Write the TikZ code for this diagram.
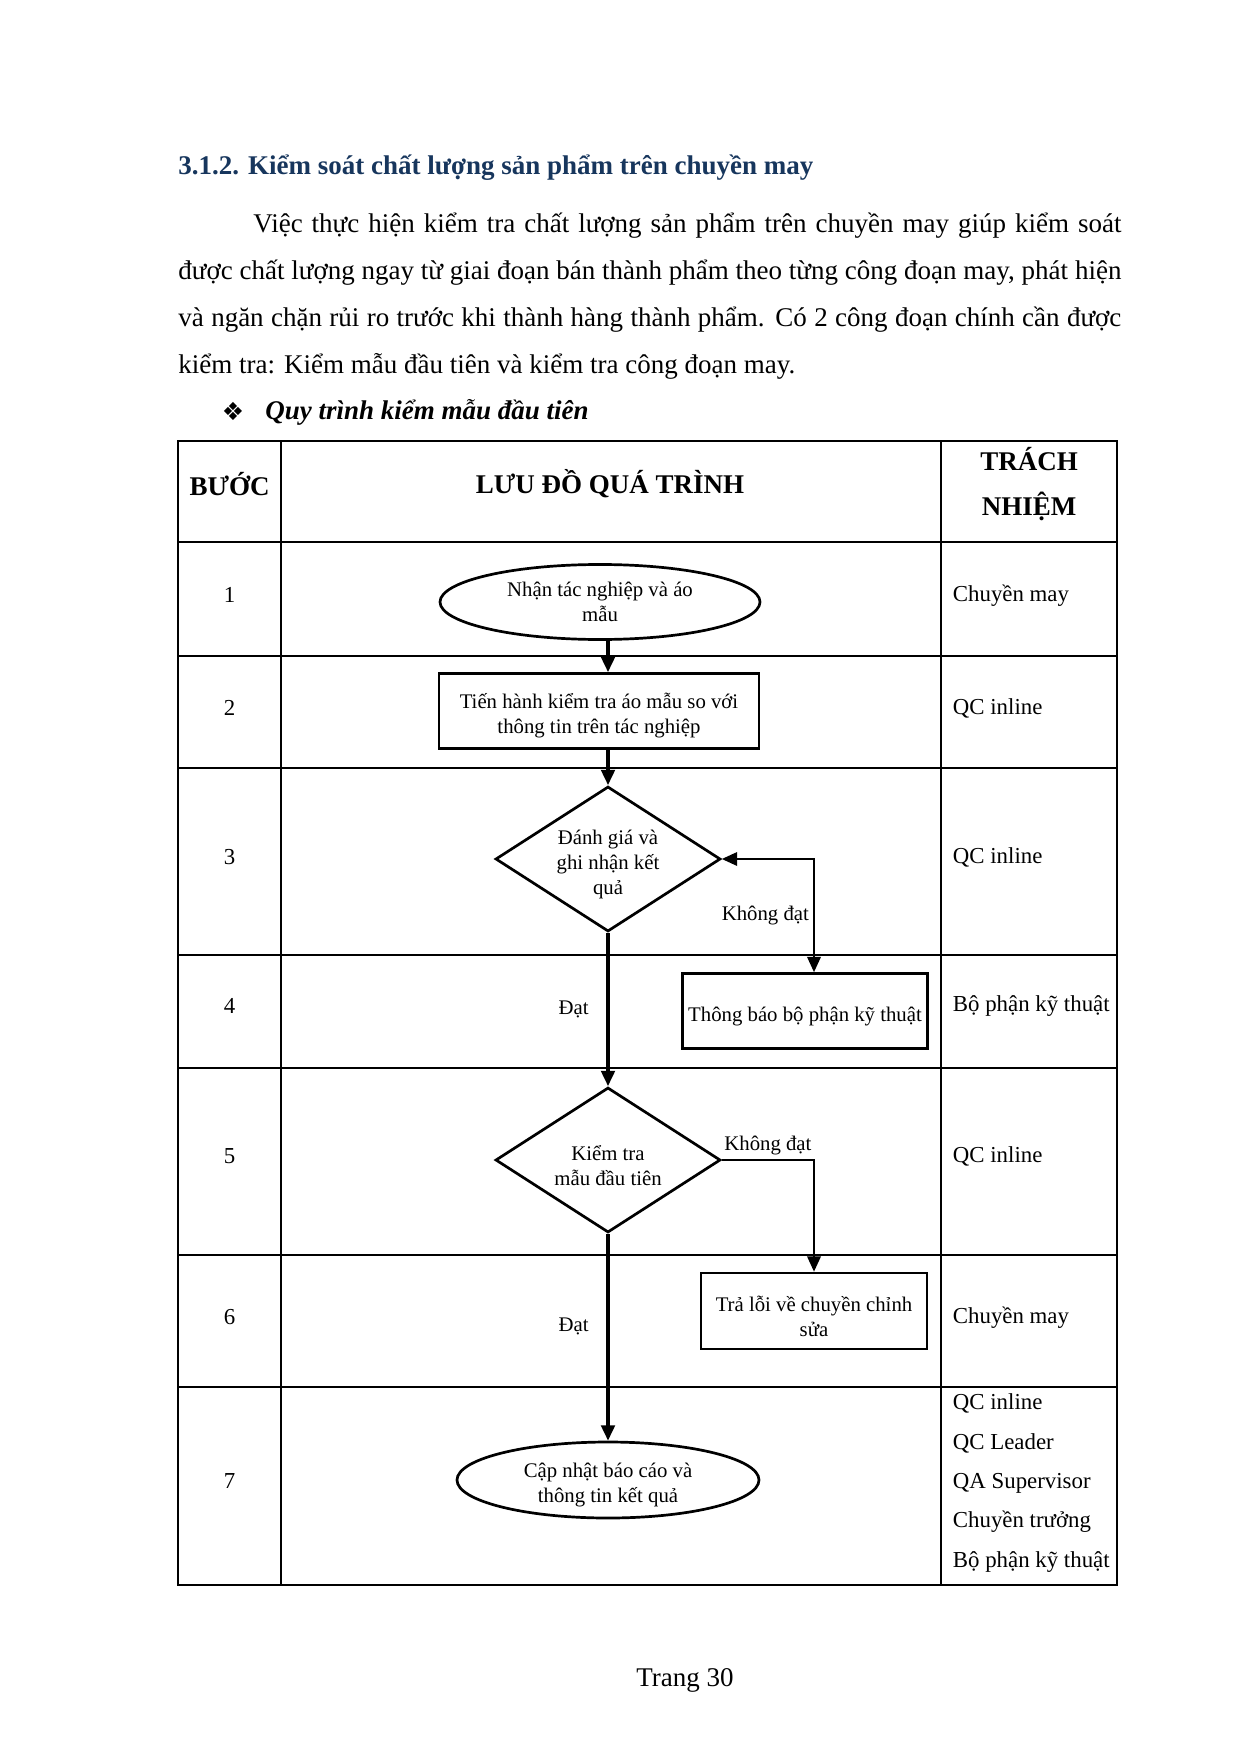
\documentclass[tikz,border=0pt]{standalone}
\usepackage{fontspec}
\setmainfont{Liberation Serif}
\newfontfamily\symfont{DejaVu Sans}
\usepackage{tikz}
\usetikzlibrary{shapes.geometric, arrows.meta}
\definecolor{headblue}{RGB}{23,54,93}
\newcommand{\px}{0.016922cm}
\newcommand{\toppad}{\rule{0pt}{12.2pt}}
\tikzstyle{terminal} = [ellipse,
inner xsep=1pt,
inner ysep=-3pt,
align=center,
line width=1.3pt,
draw=black,
fill=white]
\tikzstyle{process} = [rectangle,
inner sep=2pt,
align=center,
line width=1.3pt,
draw=black,
fill=white]
\tikzstyle{decision} = [diamond,
shape aspect=1.55,
minimum width=225*\px,
minimum height=145*\px,
inner xsep=0pt,
inner ysep=-3pt,
align=center,
line width=1.3pt,
draw=black,
fill=white]
\tikzstyle{body} = [anchor=west, inner sep=0pt, font=\fontsize{13}{15}\selectfont]
\tikzstyle{cell} = [inner sep=0pt, font=\fontsize{11}{13}\selectfont]
\tikzstyle{head} = [inner sep=0pt, align=center, font=\fontsize{13}{21.6}\selectfont\bfseries]
\tikzstyle{grid} = [line width=0.9pt]
\tikzstyle{arrow} = [line width=1.6pt, ->]
\tikzstyle{side} = [line width=0.9pt]

\begin{document}
\begin{tikzpicture}[x=\px, y=-\px, >={Triangle[length=2.6mm, width=2.3mm]}]
\tikzstyle{every node}=[font=\fontsize{10}{12}\selectfont]
\useasboundingbox (0,0) rectangle (1241,1753);

% heading and text
\node (title) [body, font=\fontsize{13}{15}\selectfont\bfseries, text=headblue] at (178,167.5) {3.1.2. Kiểm soát chất lượng sản phẩm trên chuyền may};
\node (par1) [body] at (253,226) {\makebox[14.688cm][s]{Việc thực hiện kiểm tra chất lượng sản phẩm trên chuyền may giúp kiểm soát}};
\node (par2) [body] at (178,273) {\makebox[15.957cm][s]{được chất lượng ngay từ giai đoạn bán thành phẩm theo từng công đoạn may, phát hiện}};
\node (par3) [body] at (178,320) {\makebox[15.957cm][s]{và ngăn chặn rủi ro trước khi thành hàng thành phẩm. Có 2 công đoạn chính cần được}};
\node (par4) [body] at (178,366) {kiểm tra: Kiểm mẫu đầu tiên và kiểm tra công đoạn may.};
\node (bullet) [inner sep=0pt, font=\symfont\fontsize{12}{14}\selectfont] at (233,411) {❖};
\node (subtitle) [body, font=\fontsize{13}{15}\selectfont\bfseries\itshape] at (265,412) {Quy trình kiểm mẫu đầu tiên};

% table
\draw [grid] (178,441) rectangle (1117,1585);
\draw [grid] (281,441) -- (281,1585);
\draw [grid] (941,441) -- (941,1585);
\draw [grid] (178,542) -- (1117,542);
\draw [grid] (178,656) -- (1117,656);
\draw [grid] (178,768) -- (1117,768);
\draw [grid] (178,955) -- (1117,955);
\draw [grid] (178,1068) -- (1117,1068);
\draw [grid] (178,1255) -- (1117,1255);
\draw [grid] (178,1387) -- (1117,1387);

\node (hstep) [head] at (229.5,484) {BƯỚC};
\node (hflow) [head] at (610,484) {LƯU ĐỒ QUÁ TRÌNH};
\node (hresp) [head] at (1029,484) {TRÁCH\\NHIỆM};

\node (s1) [cell] at (229.5,595) {1};
\node (s2) [cell] at (229.5,708) {2};
\node (s3) [cell] at (229.5,857) {3};
\node (s4) [cell] at (229.5,1006) {4};
\node (s5) [cell] at (229.5,1156) {5};
\node (s6) [cell] at (229.5,1317) {6};
\node (s7) [cell] at (229.5,1481) {7};

\node (r1) [cell, anchor=west] at (952.5,596) {Chuyền may};
\node (r2) [cell, anchor=west] at (952.5,708) {QC inline};
\node (r3) [cell, anchor=west] at (952.5,857) {QC inline};
\node (r4) [cell, anchor=west] at (952.5,1006) {Bộ phận kỹ thuật};
\node (r5) [cell, anchor=west] at (952.5,1156) {QC inline};
\node (r6) [cell, anchor=west] at (952.5,1318) {Chuyền may};
\node (r7) [cell, anchor=west, align=left, font=\fontsize{11}{19}\selectfont] at (952.5,1483) {QC inline\\QC Leader\\QA Supervisor\\Chuyền trưởng\\Bộ phận kỹ thuật};

% flowchart
\node (recv) [terminal, minimum width=320*\px, minimum height=75*\px] at (600,602) {Nhận tác nghiệp và áo\\mẫu};
\node (check) [process, minimum width=320*\px, minimum height=75*\px] at (599,711) {\toppad Tiến hành kiểm tra áo mẫu so với\\thông tin trên tác nghiệp};
\node (eval) [decision] at (608,859) {\toppad Đánh giá và\\ghi nhận kết\\quả};
\node (notify) [process, minimum width=245*\px, minimum height=75*\px] at (805,1011) {\toppad Thông báo bộ phận kỹ thuật};
\node (first) [decision] at (608,1160) {\toppad Kiểm tra\\mẫu đầu tiên};
\node (fix) [process, minimum width=226*\px, minimum height=76*\px] at (814,1311) {\toppad Trả lỗi về chuyền chỉnh\\sửa};
\node (update) [terminal, minimum width=302*\px, minimum height=76*\px] at (608,1480) {\toppad Cập nhật báo cáo và\\thông tin kết quả};

\draw [arrow] (recv.south -| eval.north) -- (check.north -| eval.north);
\draw [arrow] (check.south -| eval.north) -- (eval.north);
\draw [arrow] (eval.south) -- node[left=0.3cm, inner sep=0pt] {Đạt} (first.north);
\draw [arrow] (first.south) -- node[pos=0.446, left=0.3cm, inner sep=0pt] {Đạt} (update.north);
\draw [side, <->] (eval.east) -| node[pos=0.75, left, inner sep=2pt] {Không đạt} (notify.north -| fix.north);
\draw [side, ->] (first.east) -| node[pos=0.25, above, inner sep=2pt] {Không đạt} (fix.north);

\node (page) [font=\fontsize{13}{15}\selectfont] at (685,1680) {Trang 30};
\end{tikzpicture}
\end{document}
